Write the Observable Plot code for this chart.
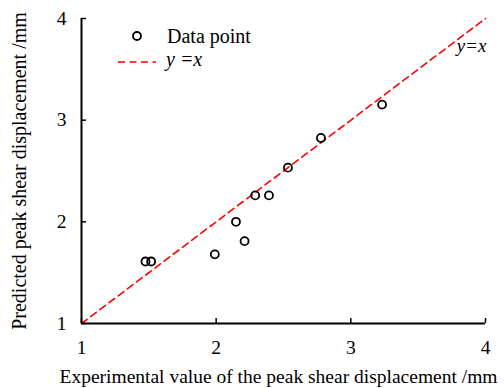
<!DOCTYPE html>
<html>
<head>
<meta charset="utf-8">
<script src="https://cdn.jsdelivr.net/npm/d3@7"></script>
<script src="https://cdn.jsdelivr.net/npm/@observablehq/plot@0.6"></script>
<style>
  html, body { margin: 0; padding: 0; background: #fff; }
  #wrap { position: relative; width: 504px; height: 388px; font-family: "Liberation Serif", "Times New Roman", serif; }
  #legend { position: absolute; left: 0; top: 0; pointer-events: none; }
</style>
</head>
<body>
<div id="wrap"></div>
<script>
// Data
const experimental = [1.475, 1.517, 1.99, 2.147, 2.211, 2.29, 2.392, 2.533, 2.778, 3.232];
const predicted    = [1.61, 1.61, 1.68, 2.00, 1.81, 2.26, 2.26, 2.533, 2.825, 3.153];
const lineValues = [1, 4];
const xTicks = [1, 2, 3, 4];
const yTicks = [1, 2, 3, 4];
const seriesLabels = ["Data point", "y =x"];
const xLabel = "Experimental value of the peak shear displacement /mm";
const yLabel = "Predicted peak shear displacement /mm";

const points = experimental.map((x, i) => ({x, y: predicted[i]}));

const font = "Liberation Serif, Times New Roman, serif";

const chart = Plot.plot({
  width: 504,
  height: 388,
  marginTop: 18,
  marginRight: 19,
  marginBottom: 65,
  marginLeft: 81,
  style: {fontFamily: font, fontSize: "19px", background: "white", color: "black"},
  x: {domain: [1, 4]},
  y: {domain: [1, 4]},
  marks: [
    Plot.axisX({ticks: xTicks, tickSize: -5, tickPadding: 22, tickFormat: d => String(d), strokeWidth: 1.5, label: null, fontSize: 19.5}),
    Plot.axisY({ticks: yTicks, tickSize: -5, tickPadding: 20, tickFormat: d => String(d), strokeWidth: 1.5, label: null, fontSize: 19.5}),
    Plot.text([xLabel], {frameAnchor: "bottom", text: d => d, textAnchor: "middle", lineAnchor: "bottom", dx: -5, dy: 59, fontSize: 19.5, fill: "black"}),
    Plot.text([yLabel], {frameAnchor: "left", text: d => d, textAnchor: "middle", rotate: -90, lineAnchor: "bottom", dx: -56, dy: 0, fontSize: 20, fill: "black"}),
    Plot.line(lineValues, {x: d => d, y: d => d, stroke: "#ff0000", strokeWidth: 1.6, strokeDasharray: "7,4.5"}),
    Plot.text([lineValues[1]], {x: d => d, y: d => d, text: () => "y=x", fontStyle: "italic", fontSize: 19, dx: -14, dy: 27, fill: "black"}),
    Plot.dot(points, {x: "x", y: "y", r: 4, stroke: "black", strokeWidth: 1.8, fill: "none"}),
    Plot.ruleX([1], {strokeWidth: 2}),
    Plot.ruleY([1], {strokeWidth: 2})
  ]
});

const wrap = document.getElementById("wrap");
wrap.appendChild(chart);

// Legend overlay
const leg = d3.select(wrap).append("svg").attr("id", "legend").attr("width", 504).attr("height", 388);
leg.append("circle").attr("cx", 137).attr("cy", 36).attr("r", 4).attr("fill", "none").attr("stroke", "black").attr("stroke-width", 1.8);
leg.append("text").attr("x", 167).attr("y", 43).attr("font-family", font).attr("font-size", 20).text(seriesLabels[0]);
leg.append("line").attr("x1", 118).attr("x2", 156).attr("y1", 62).attr("y2", 62).attr("stroke", "#ff0000").attr("stroke-width", 1.6).attr("stroke-dasharray", "7,4.5");
leg.append("text").attr("x", 166).attr("y", 66).attr("font-family", font).attr("font-size", 20).attr("font-style", "italic").text(seriesLabels[1]);
</script>
</body>
</html>
